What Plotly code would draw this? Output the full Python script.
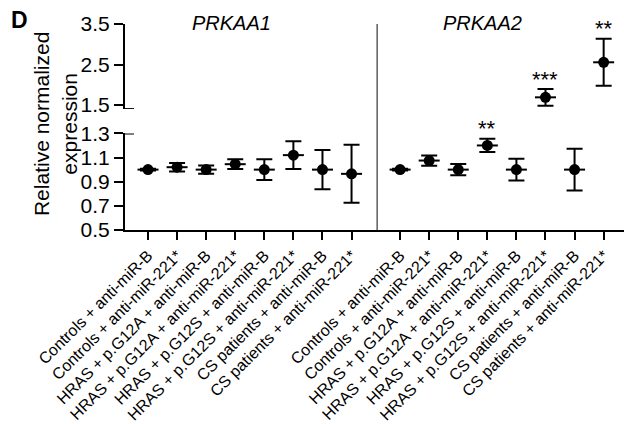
import plotly.graph_objects as go

# ---------------- data ----------------
conditions = [
    "Controls + anti-miR-B",
    "Controls + anti-miR-221*",
    "HRAS + p.G12A + anti-miR-B",
    "HRAS + p.G12A + anti-miR-221*",
    "HRAS + p.G12S + anti-miR-B",
    "HRAS + p.G12S + anti-miR-221*",
    "CS patients + anti-miR-B",
    "CS patients + anti-miR-221*",
]
genes = ["PRKAA1", "PRKAA2"]
prkaa1_mean = [1.0, 1.02, 1.0, 1.045, 1.0, 1.12, 1.0, 0.965]
prkaa1_err = [0.008, 0.035, 0.035, 0.04, 0.085, 0.115, 0.163, 0.24]
prkaa2_mean = [1.0, 1.075, 1.0, 1.2, 1.0, 1.69, 1.0, 2.555]
prkaa2_err = [0.008, 0.042, 0.047, 0.055, 0.09, 0.205, 0.173, 0.58]
prkaa1_sig = ["", "", "", "", "", "", "", ""]
prkaa2_sig = ["", "", "", "**", "", "***", "", "**"]

lower_range = [0.5, 1.3]
upper_range = [1.4, 3.5]
lower_ticks = [0.5, 0.7, 0.9, 1.1, 1.3]
upper_ticks = [1.5, 2.5, 3.5]

# ---------------- layout params ----------------
GROUP_OFFSET = 8.67
FONT = "Liberation Sans, Arial, sans-serif"

means = [prkaa1_mean, prkaa2_mean]
errs = [prkaa1_err, prkaa2_err]
sigs = [prkaa1_sig, prkaa2_sig]

fig = go.Figure()

tickvals, ticktext = [], []
annotations = []
for g in range(2):
    for i, lab in enumerate(conditions):
        tickvals.append(i + g * GROUP_OFFSET)
        ticktext.append(lab)

for axis_name, rng in (("y", lower_range), ("y2", upper_range)):
    xs, ys, es = [], [], []
    for g in range(2):
        for i in range(len(conditions)):
            m = means[g][i]
            on_upper = m > upper_range[0]
            if (axis_name == "y2") != on_upper:
                continue
            xs.append(i + g * GROUP_OFFSET)
            ys.append(m)
            es.append(errs[g][i])
            if sigs[g][i]:
                annotations.append(dict(
                    x=i + g * GROUP_OFFSET, y=m + errs[g][i], xref="x", yref=axis_name,
                    text=sigs[g][i], showarrow=False, yanchor="middle", yshift=10,
                    font=dict(family=FONT, size=22, color="black"),
                ))
    # mean line + error bars
    fig.add_trace(go.Scatter(
        x=xs, y=ys, yaxis=axis_name, mode="markers",
        marker=dict(symbol="line-ew", size=15, color="black",
                    line=dict(color="black", width=2)),
        error_y=dict(type="data", array=es, symmetric=True, color="black",
                     thickness=2, width=8),
        showlegend=False, cliponaxis=False, hoverinfo="skip",
    ))
    # dots
    fig.add_trace(go.Scatter(
        x=xs, y=ys, yaxis=axis_name, mode="markers",
        marker=dict(symbol="circle", size=11, color="black"),
        showlegend=False, cliponaxis=False,
    ))

# gene titles
annotations.append(dict(x=0.214, y=1.005, xref="paper", yref="paper", text="<i>PRKAA1</i>",
                        showarrow=False, xanchor="center", yanchor="middle",
                        font=dict(family=FONT, size=20, color="black")))
annotations.append(dict(x=0.717, y=1.005, xref="paper", yref="paper", text="<i>PRKAA2</i>",
                        showarrow=False, xanchor="center", yanchor="middle",
                        font=dict(family=FONT, size=20, color="black")))
# panel letter
annotations.append(dict(x=-0.232, y=1.02, xref="paper", yref="paper", text="<b>D</b>",
                        showarrow=False, xanchor="left", yanchor="middle",
                        font=dict(family=FONT, size=23, color="black")))
# y-axis title
annotations.append(dict(x=-0.14, y=0.515, xref="paper", yref="paper",
                        text="Relative normalized<br>expression", textangle=-90,
                        showarrow=False, xanchor="center", yanchor="middle",
                        font=dict(family=FONT, size=21, color="black")))

shapes = [
    # divider between gene panels
    dict(type="line", xref="x", yref="paper", x0=7.88, x1=7.88, y0=0, y1=1.0,
         line=dict(color="#333333", width=1.2)),
    # axis-break caps
    dict(type="line", xref="paper", yref="y", x0=0, x1=0.018, y0=lower_range[1], y1=lower_range[1],
         line=dict(color="black", width=2)),
    dict(type="line", xref="paper", yref="y2", x0=0, x1=0.018, y0=upper_range[0], y1=upper_range[0],
         line=dict(color="black", width=2)),
]

axis_common = dict(showline=True, linecolor="black", linewidth=2, ticks="outside",
                   tickcolor="black", tickwidth=2, ticklen=9, showgrid=False,
                   zeroline=False, tickfont=dict(family=FONT, size=21, color="black"))

fig.update_layout(
    width=624, height=424,
    margin=dict(l=125, r=0, t=24, b=194),
    paper_bgcolor="white", plot_bgcolor="white",
    xaxis=dict(range=[-0.791, 16.37], tickmode="array", tickvals=tickvals, ticktext=ticktext,
               tickangle=-45, showline=True, linecolor="black", linewidth=2,
               ticks="outside", tickcolor="black", tickwidth=2, ticklen=8,
               showgrid=False, zeroline=False, anchor="y", automargin=False,
               tickfont=dict(family=FONT, size=16, color="black")),
    yaxis=dict(domain=[0, 0.469], range=lower_range, tickmode="array", tickvals=lower_ticks,
               ticktext=[f"{v:.1f}" for v in lower_ticks], anchor="x", automargin=False,
               **axis_common),
    yaxis2=dict(domain=[0.587, 1.0], range=upper_range, tickmode="array", tickvals=upper_ticks,
                ticktext=[f"{v:.1f}" for v in upper_ticks], anchor="x", automargin=False,
                **axis_common),
    annotations=annotations,
    shapes=shapes,
    showlegend=False,
)

fig.write_html(
    "out.html",
    config={"displayModeBar": False},
    post_script="document.body.style.margin='0px';document.body.style.overflow='hidden';",
)
